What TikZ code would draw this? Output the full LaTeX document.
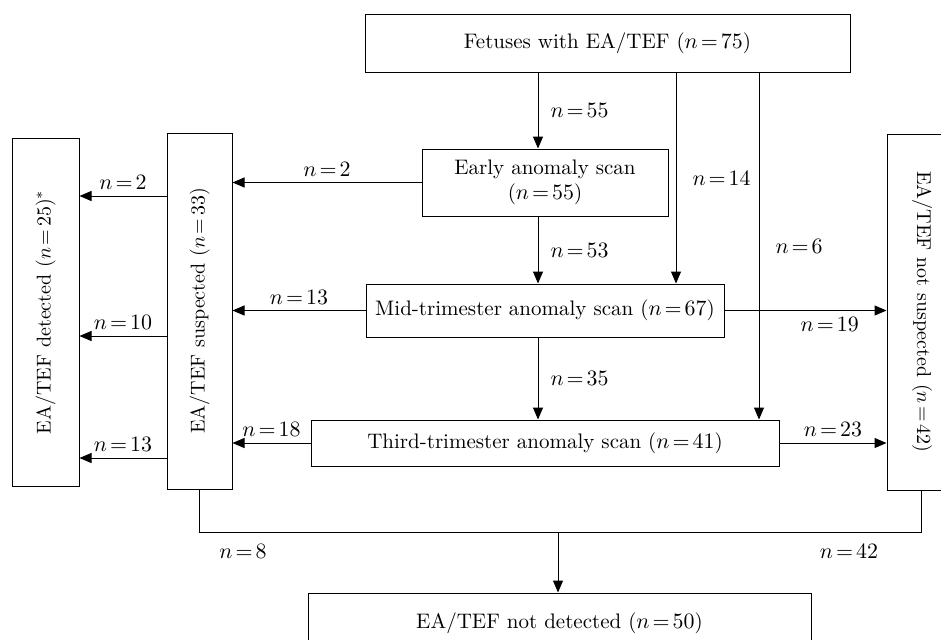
\documentclass[tikz,border=0pt]{standalone}
\usepackage{graphicx}
\usetikzlibrary{arrows.meta}
\thickmuskip=2.5mu plus 1mu

\tikzset{
    box/.style = {draw, line width = 0.5pt, inner sep = 2pt, align = center},
    sidebox/.style = {box, font = \fontsize{10}{12}\selectfont},
    arr/.style = {-{Triangle[length = 6pt, width = 5pt]}, line width = 0.5pt},
    lbl/.style = {inner sep = 2pt}
}

\begin{document}
\begin{tikzpicture}[x = 0.5pt, y = -0.5pt, font = \fontsize{10.5}{12.5}\selectfont]
            \useasboundingbox (0,0) rectangle (941,639);
            \clip (0,0) rectangle (941,639);

            % boxes
            \node[box, minimum width = 242.5pt, minimum height = 29pt] (fetus) at (607.5,43) {Fetuses with EA/TEF ($n=75$)};
            \node[box, minimum width = 123pt, minimum height = 33.5pt] (early) at (545,182.5) {Early anomaly scan\\($n=55$)};
            \node[box, minimum width = 179pt, minimum height = 26.5pt] (mid) at (545,310.5) {Mid-trimester anomaly scan ($n=67$)};
            \node[box, minimum width = 234pt, minimum height = 23pt] (third) at (545,443) {Third-trimester anomaly scan ($n=41$)};
            \node[sidebox, minimum width = 33.5pt, minimum height = 174pt] (detected) at (45.5,312) {\rotatebox{90}{EA/TEF detected ($n=25$)$^*$}};
            \node[sidebox, minimum width = 32.5pt, minimum height = 178pt] (suspected) at (199.5,311) {\rotatebox{90}{EA/TEF suspected ($n=33$)}};
            \node[sidebox, minimum width = 35pt, minimum height = 178pt] (notsusp) at (922,312) {\rotatebox{-90}{EA/TEF not suspected ($n=42$)}};
            \node[box, minimum width = 251.5pt, minimum height = 30pt] (undetected) at (559.5,623) {EA/TEF not detected ($n=50$)};

            \coordinate (spine) at (538,0);
            \coordinate (by14) at (676,0);
            \coordinate (by6) at (759,0);
            \coordinate (join) at (558,532);

            % downward flow
            \draw[arr] (fetus.south -| spine) -- node[lbl, right = 4pt] {$n=55$} (early.north -| spine);
            \draw[arr] (early.south -| spine) -- node[lbl, right = 4pt] {$n=53$} (mid.north -| spine);
            \draw[arr] (mid.south -| spine) -- node[lbl, right = 4pt] {$n=35$} (third.north -| spine);
            \draw[arr] (fetus.south -| by14) -- node[lbl, right = 6pt] {$n=14$} (mid.north -| by14);
            \draw[arr] (fetus.south -| by6) -- node[lbl, right = 6pt] {$n=6$} (third.north -| by6);

            % suspected
            \draw[arr] (early.west) -- node[lbl, above = 1pt] {$n=2$} (early.west -| suspected.east);
            \draw[arr] (mid.west) -- node[lbl, above = 1pt] {$n=13$} (mid.west -| suspected.east);
            \draw[arr] (third.west) -- node[lbl, above = 1pt] {$n=18$} (third.west -| suspected.east);

            % not suspected
            \draw[arr] (mid.east) -- node[lbl, below = 1pt, pos = 0.65] {$n=19$} (mid.east -| notsusp.west);
            \draw[arr] (third.east) -- node[lbl, above = 1pt] {$n=23$} (third.east -| notsusp.west);

            % detected
            \foreach \y/\n in {196/2, 336/10, 458/13}
                \draw[arr] (suspected.west |- 0,\y) -- node[lbl, above = 1pt] {$n=\n$} (detected.east |- 0,\y);

            % not detected
            \draw[line width = 0.5pt] (suspected.south) |- (join) -| (notsusp.south -| 921.5,0);
            \draw[arr] (join) -- (undetected.north -| join);
            \node[lbl] (n8) at (243,551) {$n=8$};
            \node[lbl] (n42) at (849,551) {$n=42$};
        \end{tikzpicture}
\end{document}
